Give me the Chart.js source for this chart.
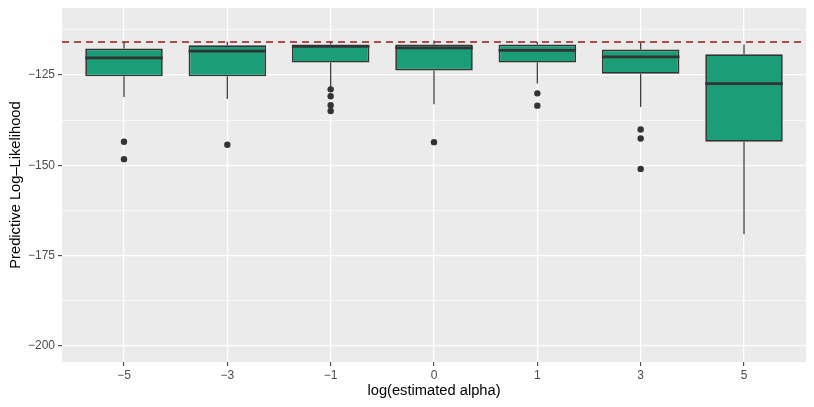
<!DOCTYPE html>
<html>
<head>
<meta charset="utf-8">
<script src="https://cdn.jsdelivr.net/npm/chart.js@4/dist/chart.umd.min.js"></script>
<style>
  html, body { margin: 0; padding: 0; background: #fff; }
  #wrap { width: 814px; height: 407px; }
</style>
</head>
<body>
<div id="wrap"><canvas id="boxChart"></canvas></div>
<script>
// categories on the x axis
const categories = ['\u22125', '\u22123', '\u22121', '0', '1', '3', '5'];

// box statistics per category
const whiskerLow  = [-131.1, -131.7, -128.5, -133.1, -127.4, -133.9, -169.1];
const lowerHinge  = [-125.4, -125.4, -121.6, -123.8, -121.6, -124.7, -143.5];
const medians     = [-120.3, -118.4, -117.1, -117.5, -118.2, -120.0, -127.4];
const upperHinge  = [-117.7, -116.8, -116.6, -116.6, -116.6, -118.0, -119.3];
const whiskerHigh = [-115.9, -115.8, -115.9, -115.5, -115.9, -116.1, -116.6];
const outliers = [
    [-143.5, -148.3],
    [-144.3],
    [-129.0, -130.9, -133.4, -135.0],
    [-143.6],
    [-130.1, -133.5],
    [-140.1, -142.6, -151.0],
    []
];

// dashed reference line
const refLine = -115.9;

// y axis ticks: majors get labels, the rest are minor grid lines
const yMajorTicks = [-200, -175, -150, -125];
const yAllTicks = [-200, -187.5, -175, -162.5, -150, -137.5, -125, -112.5];

const boxFill = '#1b9e77';
const ink = '#333333';

document.addEventListener('DOMContentLoaded', () => {
    const ctx = document.getElementById('boxChart').getContext('2d');

    const boxData = categories.map((c, i) => ({ x: i, y: [lowerHinge[i], upperHinge[i]] }));
    const outlierData = [];
    outliers.forEach((vals, i) => vals.forEach(v => outlierData.push({ x: i, y: v })));

    // panel background, whiskers, medians and the reference line
    const boxPlugin = {
        id: 'boxExtras',
        beforeDraw(chart) {
            const { ctx, chartArea: a } = chart;
            ctx.save();
            ctx.fillStyle = '#ebebeb';
            ctx.fillRect(a.left, a.top, a.right - a.left, a.bottom - a.top);
            ctx.restore();
        },
        beforeDatasetsDraw(chart) {
            const { ctx, scales: { x, y } } = chart;
            ctx.save();
            ctx.strokeStyle = ink;
            ctx.lineWidth = 1.2;
            categories.forEach((c, i) => {
                const px = x.getPixelForValue(i);
                ctx.beginPath();
                ctx.moveTo(px, y.getPixelForValue(upperHinge[i]));
                ctx.lineTo(px, y.getPixelForValue(whiskerHigh[i]));
                ctx.moveTo(px, y.getPixelForValue(lowerHinge[i]));
                ctx.lineTo(px, y.getPixelForValue(whiskerLow[i]));
                ctx.stroke();
            });
            ctx.restore();
        },
        afterDatasetsDraw(chart) {
            const { ctx, chartArea: a, scales: { y } } = chart;
            const bars = chart.getDatasetMeta(0).data;
            ctx.save();
            ctx.strokeStyle = ink;
            ctx.lineWidth = 2.8;
            bars.forEach((bar, i) => {
                const py = y.getPixelForValue(medians[i]);
                ctx.beginPath();
                ctx.moveTo(bar.x - bar.width / 2, py);
                ctx.lineTo(bar.x + bar.width / 2, py);
                ctx.stroke();
            });
            const ry = y.getPixelForValue(refLine);
            ctx.strokeStyle = '#981b1b';
            ctx.lineWidth = 1.6;
            ctx.setLineDash([7, 5]);
            ctx.beginPath();
            ctx.moveTo(a.left, ry);
            ctx.lineTo(a.right, ry);
            ctx.stroke();
            ctx.restore();
        }
    };

    new Chart(ctx, {
        type: 'bar',
        data: {
            datasets: [
                {
                    type: 'bar',
                    data: boxData,
                    backgroundColor: boxFill,
                    borderColor: ink,
                    borderWidth: 1.7,
                    borderSkipped: false,
                    categoryPercentage: 0.75,
                    barPercentage: 1
                },
                {
                    type: 'scatter',
                    data: outlierData,
                    pointRadius: 3.2,
                    pointBackgroundColor: ink,
                    pointBorderWidth: 0
                }
            ]
        },
        options: {
            responsive: true,
            maintainAspectRatio: false,
            animation: false,
            layout: { padding: { top: 8, right: 8, left: 0, bottom: 0 } },
            plugins: {
                legend: { display: false },
                tooltip: { enabled: false }
            },
            scales: {
                x: {
                    type: 'linear',
                    min: -0.6,
                    max: 6.6,
                    offset: false,
                    afterBuildTicks: (scale) => {
                        scale.ticks = categories.map((c, i) => ({ value: i }));
                    },
                    afterFit: (scale) => {
                        scale.height = 45;
                        scale.paddingLeft = 0;
                        scale.paddingRight = 0;
                    },
                    grid: {
                        offset: false,
                        color: '#ffffff',
                        lineWidth: 1.3,
                        tickLength: 4,
                        tickColor: ink,
                        tickWidth: 1
                    },
                    border: { display: false },
                    ticks: {
                        padding: 2,
                        color: '#4d4d4d',
                        font: { family: "'Liberation Sans', Arial, sans-serif", size: 12 },
                        callback: (v) => categories[v]
                    },
                    title: {
                        display: true,
                        text: 'log(estimated alpha)',
                        color: '#000',
                        font: { family: "'Liberation Sans', Arial, sans-serif", size: 14.7 },
                        padding: { top: 0, bottom: 7 }
                    }
                },
                y: {
                    min: -204.4,
                    max: -106.5,
                    afterBuildTicks: (scale) => {
                        scale.ticks = yAllTicks.map(v => ({ value: v }));
                    },
                    afterFit: (scale) => {
                        scale.width = 62;
                        scale.paddingTop = 0;
                        scale.paddingBottom = 0;
                    },
                    grid: {
                        color: '#ffffff',
                        lineWidth: (c) => yMajorTicks.includes(c.tick.value) ? 1.3 : 0.65,
                        tickLength: 4,
                        tickColor: (c) => yMajorTicks.includes(c.tick.value) ? ink : 'rgba(0,0,0,0)',
                        tickWidth: 1
                    },
                    border: { display: false },
                    ticks: {
                        padding: 3,
                        color: '#4d4d4d',
                        font: { family: "'Liberation Sans', Arial, sans-serif", size: 12 },
                        callback: (v) => yMajorTicks.includes(v) ? String(v).replace('-', '\u2212') : ''
                    },
                    title: {
                        display: true,
                        text: 'Predictive Log\u2013Likelihood',
                        color: '#000',
                        font: { family: "'Liberation Sans', Arial, sans-serif", size: 14.7 },
                        padding: { top: 7, bottom: 0 }
                    }
                }
            }
        },
        plugins: [boxPlugin]
    });
});
</script>
</body>
</html>
